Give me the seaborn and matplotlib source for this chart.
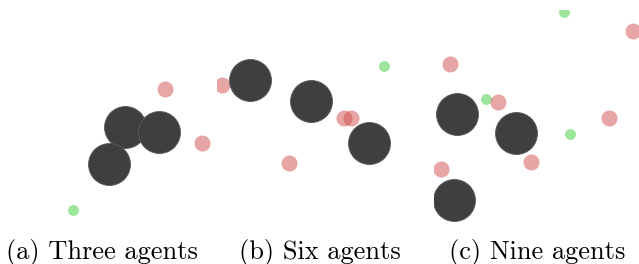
import matplotlib
matplotlib.use("Agg")
import matplotlib.pyplot as plt
import seaborn as sns
import pandas as pd

# Arena coordinates (1 unit = 20 px in the original figure), y upwards
captions = ["(a) Three agents", "(b) Six agents", "(c) Nine agents"]

agents_x = [[6.25, 7.95, 5.45], [1.65, 4.70, 7.60], [1.15, 4.10, 1.00]]
agents_y = [[4.90, 4.65, 3.05], [7.25, 6.20, 4.10], [5.55, 4.60, 1.25]]

obstacles_x = [[8.25, 10.10], [0.25, 6.33, 6.70, 3.60], [0.80, 3.20, 8.75, 4.85, 0.35, 9.95]]
obstacles_y = [[6.80, 4.10], [7.00, 5.35, 5.35, 3.10], [8.05, 6.15, 5.35, 3.15, 2.80, 9.70]]

goals_x = [[3.65], [8.35], [6.50, 2.60, 6.80]]
goals_y = [[0.75], [7.95], [10.65, 6.30, 4.55]]

W, H = 639, 264
fig = plt.figure(figsize=(W / 100, H / 100), dpi=100)
fig.patch.set_facecolor("white")

panel_left = [0, 217, 434]
panel_w = [213, 205, 205]
ph, pb = 215, 39

for i in range(3):
    pw = panel_w[i]
    ax = fig.add_axes([panel_left[i] / W, pb / H, pw / W, ph / H])
    g = pd.DataFrame({"x": goals_x[i], "y": goals_y[i]})
    o = pd.DataFrame({"x": obstacles_x[i], "y": obstacles_y[i]})
    a = pd.DataFrame({"x": agents_x[i], "y": agents_y[i]})
    sns.scatterplot(data=g, x="x", y="y", ax=ax, s=62, color=(0.24, 0.80, 0.24),
                    alpha=0.5, linewidth=0, zorder=2)
    sns.scatterplot(data=o, x="x", y="y", ax=ax, s=133, color=(0.82, 0.30, 0.30),
                    alpha=0.5, linewidth=0, zorder=3)
    sns.scatterplot(data=a, x="x", y="y", ax=ax, s=914, color="#3f3f3f",
                    edgecolor="#5a5a5a", linewidth=0.6, alpha=1.0, zorder=4)
    ax.set_xlim(0, pw / 20)
    ax.set_ylim(0, ph / 20)
    ax.axis("off")

caption_cx = [102, 320, 537]
for i in range(3):
    fig.text(caption_cx[i] / W, 5.5 / H, captions[i], ha="center", va="baseline",
             fontsize=19, family="cmr10")

fig.savefig("out.png", dpi=100, facecolor="white")
